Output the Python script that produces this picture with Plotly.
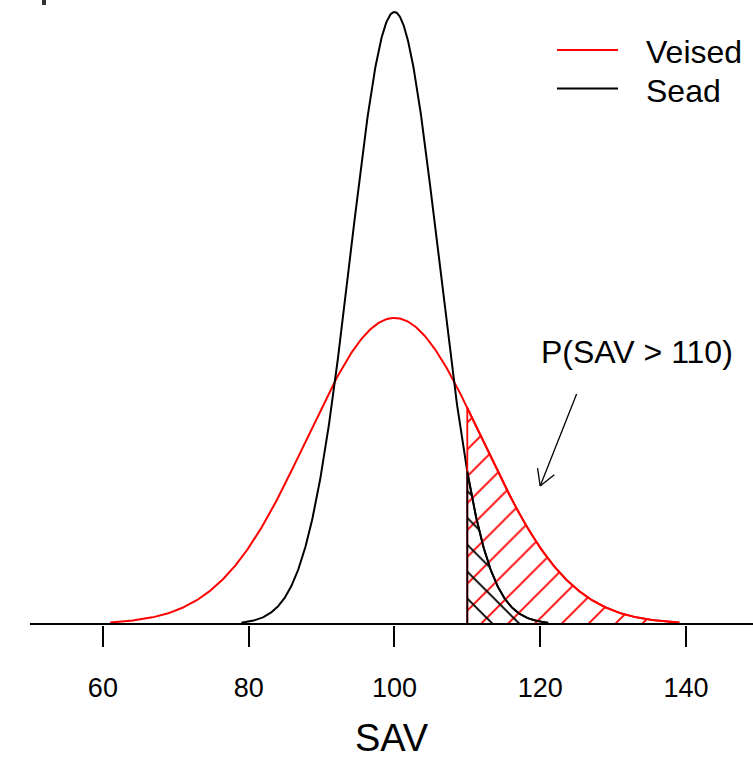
import numpy as np
import plotly.graph_objects as go

# ---- data ----
mean_sav = 100
sd_veised = 12          # red curve
sd_sead = 6             # black curve
veised_span = [61, 139]
sead_span = [79, 121]
threshold = 110
tick_vals = [60, 80, 100, 120, 140]
tick_text = ["60", "80", "100", "120", "140"]
series_names = ["Veised", "Sead"]
series_colors = ["red", "black"]
annot_text = "P(SAV > 110)"
annot_pos = [133.3, 0.0295]
arrow_tail = [125, 0.025]
arrow_head = [120, 0.015]
x_title = "SAV"

# ---- layout constants ----
W, H = 753, 760
ML, MR, MT, MB = 30, 0, 0, 135
PW, PH = W - ML - MR, H - MT - MB
x_range = [50, 149.2]
peak = 1 / (sd_sead * np.sqrt(2 * np.pi))
ppu_y = (624 - 12) / peak
y_range = [-1 / ppu_y, peak + 12 / ppu_y]
ppu_x = PW / (x_range[1] - x_range[0])
FONT = "Liberation Sans, Arial, sans-serif"


def dnorm(x, m, s):
    return np.exp(-0.5 * ((x - m) / s) ** 2) / (s * np.sqrt(2 * np.pi))


def px_to_paper(px, py):
    return (px - ML) / PW, 1 - (py - MT) / PH


fig = go.Figure()

sds = [sd_veised, sd_sead]
spans = [veised_span, sead_span]
# curves
for name, col, sd, span in zip(series_names, series_colors, sds, spans):
    xs = np.linspace(span[0], span[1], 500)
    fig.add_trace(go.Scatter(x=xs, y=dnorm(xs, mean_sav, sd), mode="lines",
                             line=dict(color=col, width=2), name=name,
                             showlegend=False, hoverinfo="skip"))

# hatched tail areas
for col, sd, span, shape in zip(series_colors, sds, spans, ["/", "\\"]):
    xs = np.linspace(threshold, span[1], 300)
    px_ = np.concatenate([[threshold], xs, [span[1], threshold]])
    py_ = np.concatenate([[0], dnorm(xs, mean_sav, sd), [0, 0]])
    fig.add_trace(go.Scatter(
        x=px_, y=py_, mode="lines", fill="toself",
        fillcolor="rgba(0,0,0,0)",
        fillpattern=dict(shape=shape, fgcolor=col, bgcolor="rgba(0,0,0,0)",
                         size=19, solidity=0.1, fillmode="replace"),
        line=dict(color=col, width=1.8), showlegend=False, hoverinfo="skip"))

# baseline
fig.add_shape(type="line", xref="paper", yref="y", x0=0, x1=1, y0=0, y1=0,
              line=dict(color="black", width=2))

# arrow shaft
fig.add_shape(type="line", xref="x", yref="y",
              x0=arrow_tail[0], y0=arrow_tail[1], x1=arrow_head[0], y1=arrow_head[1],
              line=dict(color="black", width=1.3))
# arrow barbs (open V head, 30 deg, 18 px)
dx = (arrow_tail[0] - arrow_head[0]) * ppu_x
dy = (arrow_tail[1] - arrow_head[1]) * ppu_y
ang = np.arctan2(dy, dx)
for a in (ang + np.pi / 6, ang - np.pi / 6):
    fig.add_shape(type="line", xref="x", yref="y",
                  xsizemode="pixel", ysizemode="pixel",
                  xanchor=arrow_head[0], yanchor=arrow_head[1],
                  x0=0, y0=0, x1=18 * np.cos(a), y1=18 * np.sin(a),
                  line=dict(color="black", width=1.3))

fig.add_annotation(x=annot_pos[0], y=annot_pos[1], xref="x", yref="y",
                   text=annot_text, showarrow=False,
                   font=dict(family=FONT, size=32, color="black"))

# legend drawn manually
leg_rows = [50, 88.5]
leg_text_rows = [52.5, 91]
for name, col, ly, ty in zip(series_names, series_colors, leg_rows, leg_text_rows):
    x0, yp = px_to_paper(557, ly)
    x1, _ = px_to_paper(618, ly)
    fig.add_shape(type="line", xref="paper", yref="paper", x0=x0, x1=x1, y0=yp, y1=yp,
                  line=dict(color=col, width=2))
    tx, typ = px_to_paper(644, ty)
    fig.add_annotation(x=tx, y=typ, xref="paper", yref="paper", text=name,
                       showarrow=False, xanchor="left", yanchor="middle",
                       font=dict(family=FONT, size=32, color="black"))

# small cut-off mark at top-left
mx0, my0 = px_to_paper(42, 5)
mx1, my1 = px_to_paper(46, 0)
fig.add_shape(type="rect", xref="paper", yref="paper", x0=mx0, x1=mx1, y0=my0, y1=my1,
              fillcolor="#333", line=dict(width=0))

fig.update_layout(
    width=W, height=H,
    margin=dict(l=ML, r=MR, t=MT, b=MB, pad=0),
    paper_bgcolor="white", plot_bgcolor="white",
    font=dict(family=FONT, color="black"),
    showlegend=False,
    xaxis=dict(range=x_range, showgrid=False, zeroline=False, showline=False,
               ticks="outside", ticklen=21, tickwidth=2, tickcolor="black",
               tickvals=tick_vals, ticktext=tick_text,
               tickfont=dict(family=FONT, size=27, color="black"),
               ticklabelstandoff=18, automargin=False,
               title=dict(text=x_title, font=dict(family=FONT, size=38, color="black"),
                          standoff=21)),
    yaxis=dict(range=y_range, visible=False, fixedrange=True),
)

fig.write_html("out.html")
